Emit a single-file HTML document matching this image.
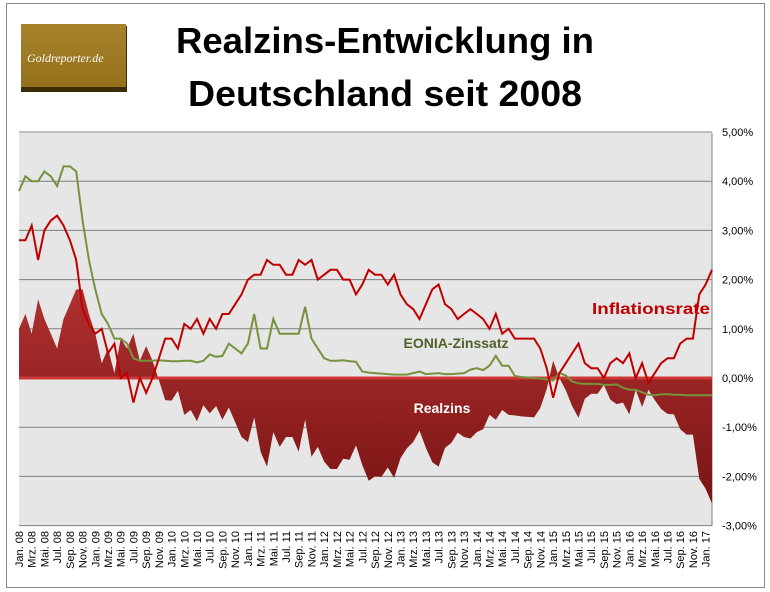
<!DOCTYPE html>
<html><head><meta charset="utf-8"><style>
body{margin:0;background:#fff;}
svg{display:block;font-family:"Liberation Sans",sans-serif;}
</style></head><body>
<svg id="s" width="770" height="592" xmlns="http://www.w3.org/2000/svg">
<defs>
<linearGradient id="ar" x1="0" y1="0" x2="0" y2="1">
<stop offset="0" stop-color="#b03030"/><stop offset="1" stop-color="#7a1414"/></linearGradient>
<linearGradient id="lg" x1="0" y1="0" x2="0" y2="1">
<stop offset="0" stop-color="#a8832c"/><stop offset="1" stop-color="#94701c"/></linearGradient>
</defs>
<rect x="6.5" y="3.5" width="758" height="584" fill="#fff" stroke="#888" stroke-width="1"/>
<rect x="21" y="26" width="106" height="66" fill="#3d2c08"/>
<rect x="21" y="24" width="105" height="63" fill="url(#lg)"/>
<text x="27" y="62" font-size="12" fill="#fff" font-style="italic" font-family="Liberation Serif,serif">Goldreporter.de</text>
<text x="385" y="53" font-size="36" font-weight="bold" text-anchor="middle" textLength="418" lengthAdjust="spacingAndGlyphs">Realzins-Entwicklung in</text>
<text x="385" y="106" font-size="36" font-weight="bold" text-anchor="middle" textLength="394" lengthAdjust="spacingAndGlyphs">Deutschland seit 2008</text>
<rect x="19" y="133" width="693" height="393" fill="#e6e6e6"/>
<g id="grid"></g>
<g id="plot"></g>
<g id="lbl"></g>
<text x="592" y="314" font-size="16" font-weight="bold" fill="#c00000" textLength="118" lengthAdjust="spacingAndGlyphs">Inflationsrate</text>
<text x="456" y="348" font-size="14" font-weight="bold" fill="#4f6228" text-anchor="middle">EONIA-Zinssatz</text>
<text x="442" y="413" font-size="14" font-weight="bold" fill="#fff" text-anchor="middle">Realzins</text>
</svg>
<script>
var inf=[2.8,2.8,3.1,2.4,3.0,3.2,3.3,3.1,2.8,2.4,1.4,1.1,
0.9,1.0,0.5,0.7,0.0,0.1,-0.5,0.0,-0.3,0.0,0.4,0.8,
0.8,0.6,1.1,1.0,1.2,0.9,1.2,1.0,1.3,1.3,1.5,1.7,
2.0,2.1,2.1,2.4,2.3,2.3,2.1,2.1,2.4,2.3,2.4,2.0,
2.1,2.2,2.2,2.0,2.0,1.7,1.9,2.2,2.1,2.1,1.9,2.1,
1.7,1.5,1.4,1.2,1.5,1.8,1.9,1.5,1.4,1.2,1.3,1.4,
1.3,1.2,1.0,1.3,0.9,1.0,0.8,0.8,0.8,0.8,0.6,0.2,
-0.4,0.1,0.3,0.5,0.7,0.3,0.2,0.2,0.0,0.3,0.4,0.3,
0.5,0.0,0.3,-0.1,0.1,0.3,0.4,0.4,0.7,0.8,0.8,1.7,
1.9,2.2];
var eo=[3.8,4.1,4.0,4.0,4.2,4.1,3.9,4.3,4.3,4.2,3.2,2.4,
1.8,1.3,1.1,0.8,0.8,0.7,0.4,0.35,0.35,0.35,0.36,0.35,
0.34,0.34,0.35,0.35,0.32,0.35,0.48,0.43,0.45,0.7,0.6,0.5,
0.7,1.3,0.6,0.6,1.2,0.9,0.9,0.9,0.9,1.45,0.8,0.6,
0.4,0.35,0.35,0.36,0.34,0.33,0.13,0.11,0.1,0.09,0.08,0.07,
0.07,0.07,0.1,0.13,0.08,0.09,0.1,0.08,0.08,0.09,0.1,0.17,
0.2,0.16,0.25,0.45,0.25,0.25,0.04,0.02,0.01,0.0,-0.01,-0.03,
-0.05,0.1,0.05,-0.07,-0.11,-0.12,-0.12,-0.12,-0.14,-0.14,-0.13,-0.2,
-0.24,-0.24,-0.29,-0.34,-0.35,-0.33,-0.33,-0.34,-0.34,-0.35,-0.35,-0.35,
-0.35,-0.35];
var n=inf.length,x0=19,x1=712,y0=378,k=49.2;
function X(i){return x0+i*(x1-x0)/(n-1);}
function Y(v){return y0-v*k;}
var g='';
for(var v=-3;v<=5;v++){var y=Y(v);g+='<line x1="19" x2="712" y1="'+y+'" y2="'+y+'" stroke="#7f7f7f" stroke-width="1"/>';}
g+='<line x1="712" x2="712" y1="133" y2="526" stroke="#7f7f7f"/>';
document.getElementById('grid').innerHTML=g;
var a='M'+X(0)+','+y0,li='',le='';
for(var i=0;i<n;i++){a+=' L'+X(i).toFixed(1)+','+Y(eo[i]-inf[i]).toFixed(1);
li+=(i?' L':'M')+X(i).toFixed(1)+','+Y(inf[i]).toFixed(1);
le+=(i?' L':'M')+X(i).toFixed(1)+','+Y(eo[i]).toFixed(1);}
a+=' L'+X(n-1)+','+y0+'Z';
var p='<path d="'+a+'" fill="url(#ar)"/>';
p+='<rect x="19" y="376.5" width="693" height="3" fill="#d03838"/>';
p+='<path d="'+le+'" fill="none" stroke="#76923c" stroke-width="2"/>';
p+='<path d="'+li+'" fill="none" stroke="#c00000" stroke-width="2"/>';
document.getElementById('plot').innerHTML=p;
var m=['Jan.','Mrz.','Mai.','Jul.','Sep.','Nov.'],t='';
for(var v=-3;v<=5;v++){t+='<text x="722" y="'+(Y(v)+4)+'" font-size="11">'+(v<0?'-':'')+Math.abs(v)+',00%</text>';}
for(var i=0;i<n;i+=2){var yr=8+Math.floor(i/12);var s=m[(i%12)/2]+' '+(yr<10?'0'+yr:yr);
var xx=X(i)+4;t+='<text transform="translate('+xx.toFixed(1)+',531) rotate(-90)" font-size="11" text-anchor="end">'+s+'</text>';}
document.getElementById('lbl').innerHTML=t;
</script>
</body></html>
